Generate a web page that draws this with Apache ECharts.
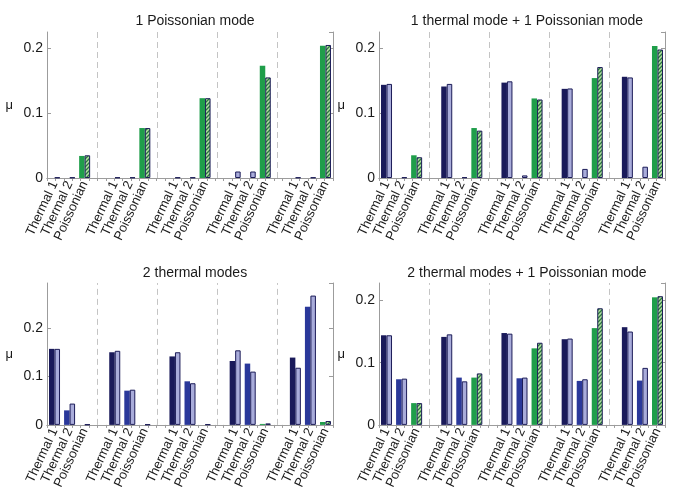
<!DOCTYPE html>
<html><head><meta charset="utf-8">
<script src="https://cdn.jsdelivr.net/npm/echarts@6/dist/echarts.min.js"></script>
<style>html,body{margin:0;padding:0;background:#fff}#c{width:674px;height:492px}</style>
</head><body><div id="c"></div>
<script>
// ---- data ----
const categories = ['Thermal 1', 'Thermal 2', 'Poissonian'];
const titles = ['1 Poissonian mode', '1 thermal mode + 1 Poissonian mode', '2 thermal modes', '2 thermal modes + 1 Poissonian mode'];
const yTicks = [0, 0.1, 0.2];
const yMax = [0.225, 0.225, 0.293, 0.228];
// each array: 5 groups x (Thermal 1, Thermal 2, Poissonian)
const p1Dark  = [0, 0, 0.034,  0, 0, 0.077,  0, 0, 0.123,  0, 0, 0.173,  0, 0, 0.204];
const p1Light = [0.0008, 0.0008, 0.035,  0.0008, 0.0008, 0.077,  0.0008, 0.0008, 0.123,  0.010, 0.010, 0.155,  0.0008, 0.0008, 0.205];
const p2Dark  = [0.1436, 0, 0.035,  0.141, 0, 0.077,  0.147, 0, 0.1226,  0.1374, 0, 0.154,  0.156, 0, 0.2036];
const p2Light = [0.145, 0.001, 0.032,  0.145, 0.001, 0.073,  0.149, 0.004, 0.121,  0.138, 0.014, 0.171,  0.155, 0.0174, 0.198];
const p3Dark  = [0.157, 0.030, 0,  0.150, 0.0707, 0,  0.1414, 0.090, 0,  0.132, 0.1266, 0.002,  0.139, 0.244, 0.006];
const p3Light = [0.157, 0.044, 0.0008,  0.153, 0.0727, 0.0008,  0.150, 0.086, 0.001,  0.154, 0.110, 0.003,  0.118, 0.267, 0.008];
const p4Dark  = [0.144, 0.0733, 0.035,  0.1414, 0.076, 0.076,  0.1476, 0.0749, 0.123,  0.1377, 0.0707, 0.1555,  0.157, 0.0712, 0.205];
const p4Light = [0.144, 0.0743, 0.035,  0.1455, 0.070, 0.0827,  0.1466, 0.076, 0.132,  0.1387, 0.0733, 0.1874,  0.150, 0.0916, 0.2068];

const panelsDark = [p1Dark, p2Dark, p3Dark, p4Dark];
const panelsLight = [p1Light, p2Light, p3Light, p4Light];

// ---- styles ----
const FONT = '"Liberation Sans", Arial, sans-serif';
const FRAME = '#9c9c9c';
const darkColors = ['#1a1a5a', '#2a389a', '#1f9e4a'];
const lightColor = '#a9acda';
const edge = '#1c1c58';

function hatch() {
  const c = document.createElement('canvas'); c.width = 4; c.height = 4;
  const g = c.getContext('2d');
  g.fillStyle = '#b8e0a6'; g.fillRect(0, 0, 4, 4);
  g.strokeStyle = '#2a7a3e'; g.lineWidth = 1.3;
  g.beginPath();
  g.moveTo(0, 4); g.lineTo(4, 0);
  g.moveTo(-1, 1); g.lineTo(1, -1);
  g.moveTo(3, 5); g.lineTo(5, 3);
  g.stroke();
  return c;
}
const hatchImg = hatch();

const grids = [
  {left: 47, top: 32, width: 286, height: 146},
  {left: 379, top: 32, width: 286, height: 146},
  {left: 47, top: 283, width: 286, height: 145},
  {left: 379, top: 283, width: 286, height: 145}
];
const titleY = [9, 9, 261, 261];

const NSLOT = 19;
const slotIdx = [];
for (let g = 0; g < 5; g++) for (let c = 0; c < 3; c++) slotIdx.push(g * 4 + c);
const slotNames = Array.from({length: NSLOT}, (_, i) => String(i + 1));
function slotLabel(i) { return (i % 4 === 3) ? '' : categories[i % 4]; }

const option = {
  animation: false,
  backgroundColor: '#fff',
  textStyle: {fontFamily: FONT},
  title: titles.map((t, k) => ({
    text: t, left: grids[k].left + grids[k].width / 2, top: titleY[k], textAlign: 'center',
    textStyle: {fontFamily: FONT, fontSize: 14, fontWeight: 'normal', color: '#1a1a1a'}
  })),
  grid: grids.map(g => Object.assign({containLabel: false}, g)),
  xAxis: [], yAxis: [], series: []
};

grids.forEach((g, k) => {
  // bottom category axis
  option.xAxis.push({
    type: 'category', gridIndex: k, data: slotNames, boundaryGap: true,
    axisLine: {show: true, lineStyle: {color: FRAME}},
    axisTick: {show: false},
    axisLabel: {interval: 0, rotate: 65, margin: 4, fontSize: 13, color: '#1a1a1a', fontFamily: FONT,
      formatter: (v, i) => slotLabel(i)},
    splitLine: {show: false}
  });
  // top tick axis (frame)
  option.xAxis.push({
    type: 'category', gridIndex: k, position: 'top', data: Array.from({length: 35}, (_, i) => 't' + i),
    boundaryGap: false,
    axisLine: {show: true, lineStyle: {color: FRAME}},
    axisTick: {show: true, inside: true, length: 3, interval: 0, lineStyle: {color: FRAME}},
    axisLabel: {show: false}, splitLine: {show: false}
  });
  option.yAxis.push({
    type: 'value', gridIndex: k, min: 0, max: yMax[k], interval: 0.1,
    name: 'μ', nameLocation: 'middle', nameRotate: 0, nameGap: 34,
    nameTextStyle: {fontSize: 13, color: '#1a1a1a', fontFamily: FONT, padding: [0, 0, 6, 0]},
    axisLine: {show: true, lineStyle: {color: FRAME}},
    axisTick: {show: true, inside: true, length: 4, lineStyle: {color: FRAME}},
    axisLabel: {fontSize: 14, color: '#1a1a1a', margin: 4, fontFamily: FONT, showMaxLabel: false,
      formatter: v => (yTicks.some(t => Math.abs(t - v) < 1e-9) ? String(v) : '')},
    splitLine: {show: false}
  });
  option.yAxis.push({
    type: 'value', gridIndex: k, position: 'right', min: 0, max: yMax[k], interval: 0.1,
    axisLine: {show: true, lineStyle: {color: FRAME}},
    axisTick: {show: true, inside: true, length: 4, lineStyle: {color: FRAME}},
    axisLabel: {show: false}, splitLine: {show: false}
  });
  const xi = k * 2, yi = k * 2;
  const darkData = new Array(NSLOT).fill('-');
  const lightData = new Array(NSLOT).fill('-');
  panelsDark[k].forEach((v, j) => {
    const c = j % 3;
    darkData[slotIdx[j]] = {value: v, itemStyle: {color: darkColors[c]}};
  });
  panelsLight[k].forEach((v, j) => {
    const c = j % 3;
    lightData[slotIdx[j]] = {value: v, itemStyle: c === 2
      ? {color: {image: hatchImg, repeat: 'repeat'}, borderColor: edge, borderWidth: 1}
      : {color: lightColor, borderColor: edge, borderWidth: 1}};
  });
  option.series.push({
    type: 'bar', xAxisIndex: xi, yAxisIndex: yi, data: darkData,
    barWidth: 5.5, barGap: '0%', silent: true,
    markLine: {
      silent: true, symbol: 'none', label: {show: false},
      lineStyle: {color: '#c4c4c4', type: [6, 4], width: 1},
      data: [3, 7, 11, 15].map(i => ({xAxis: i}))
    }
  });
  option.series.push({
    type: 'bar', xAxisIndex: xi, yAxisIndex: yi, data: lightData,
    barWidth: 5.5, barGap: '0%', silent: true
  });
});

const chart = echarts.init(document.getElementById('c'), null, {renderer: 'canvas'});
chart.setOption(option);
</script>
</body></html>
